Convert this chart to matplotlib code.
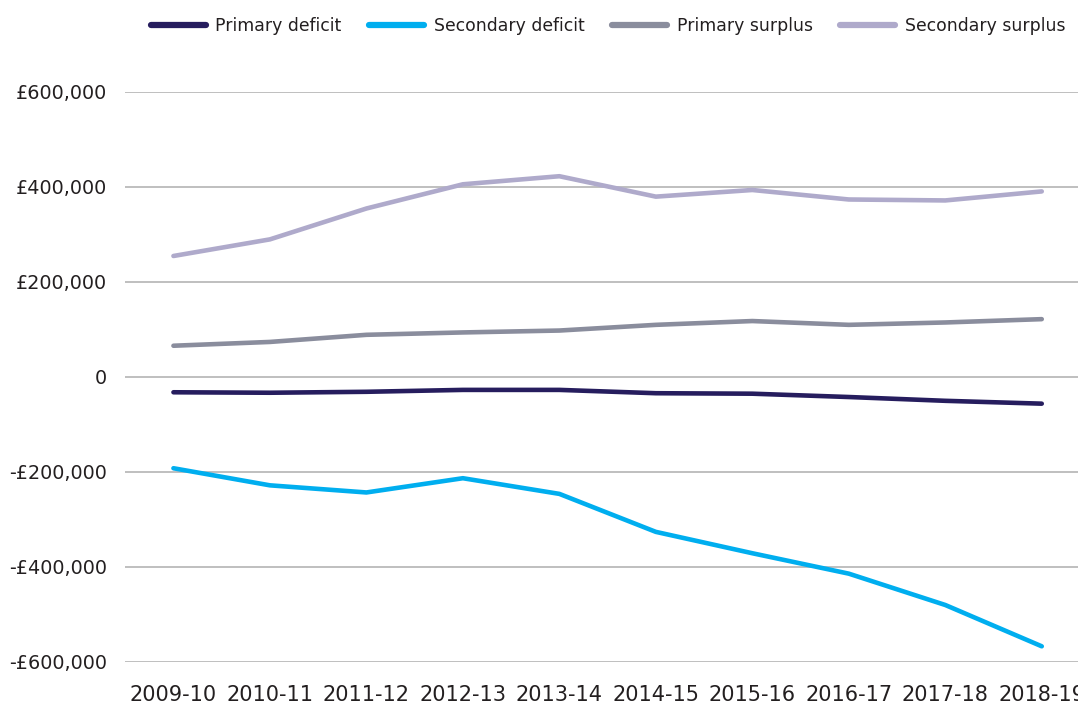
import matplotlib
matplotlib.use("Agg")
import matplotlib.pyplot as plt
from matplotlib.ticker import FixedLocator, FixedFormatter

years = ["2009-10", "2010-11", "2011-12", "2012-13", "2013-14",
         "2014-15", "2015-16", "2016-17", "2017-18", "2018-19"]

primary_deficit = [-33000, -34000, -32000, -28000, -28000,
                   -35000, -36000, -43000, -51000, -57000]
secondary_deficit = [-193000, -229000, -244000, -214000, -247000,
                     -327000, -372000, -415000, -481000, -568000]
primary_surplus = [65000, 73000, 88000, 93000, 97000,
                   109000, 117000, 109000, 114000, 121000]
secondary_surplus = [254000, 289000, 354000, 405000, 422000,
                     379000, 393000, 373000, 371000, 390000]

ytick_values = [-600000, -400000, -200000, 0, 200000, 400000, 600000]
ytick_labels = ["-£600,000", "-£400,000", "-£200,000", "0",
                "£200,000", "£400,000", "£600,000"]

series = [
    ("Primary deficit", primary_deficit, "#261d5e"),
    ("Secondary deficit", secondary_deficit, "#00aeef"),
    ("Primary surplus", primary_surplus, "#8a8d9d"),
    ("Secondary surplus", secondary_surplus, "#afaacb"),
]

plt.rcParams['font.family'] = ['DejaVu Sans']

W, H = 1078, 708
fig = plt.figure(figsize=(W / 100, H / 100), dpi=100)
left = 125.2 / W
right = 1090 / W
bottom = 1 - 661.5 / H
top = 1 - 91.7 / H
ax = fig.add_axes([left, bottom, right - left, top - bottom])

x = list(range(len(years)))
handles = []
for name, vals, col in series:
    ln, = ax.plot(x, vals, color=col, lw=3.3, solid_capstyle='round',
                  solid_joinstyle='round', label=name, zorder=3, clip_on=False)
    handles.append(ln)

ax.set_xlim(-0.5, len(years) - 0.5)
ax.set_ylim(-600000, 600000)
ax.yaxis.set_major_locator(FixedLocator(ytick_values))
ax.yaxis.set_major_formatter(FixedFormatter(ytick_labels))
ax.set_xticks(x)
ax.set_xticklabels(years)
ax.grid(axis='y', color='#bfbfbf', lw=1.4, zorder=0)
ax.set_axisbelow(True)
for s in ax.spines.values():
    s.set_visible(False)
ax.tick_params(axis='y', length=0, pad=13, labelsize=13.8, labelcolor='#231f20')
ax.tick_params(axis='x', length=0, pad=17, labelsize=15, labelcolor='#231f20')

leg = fig.legend(handles=handles, loc='center', bbox_to_anchor=(608 / W, 1 - 26 / H),
                 ncol=4, frameon=False, fontsize=12.4, handlelength=3.2,
                 handletextpad=0.55, columnspacing=1.6, borderaxespad=0)
for t in leg.get_texts():
    t.set_color('#231f20')
for lh in leg.get_lines():
    lh.set_linewidth(4.5)
    lh.set_solid_capstyle('round')

fig.savefig("out.png", dpi=100)
